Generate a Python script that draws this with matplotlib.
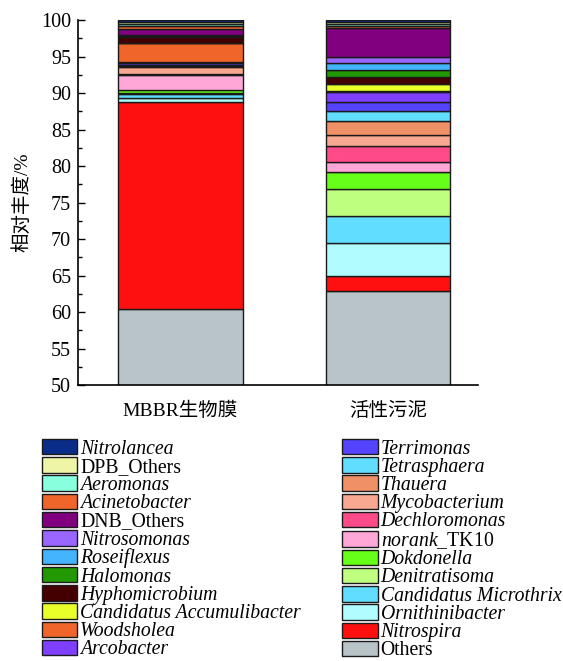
import matplotlib
matplotlib.use('Agg')
import matplotlib.pyplot as plt
import numpy as np

plt.rcParams['font.family'] = ['Liberation Serif', 'Noto Sans CJK SC']
plt.rcParams['mathtext.fontset'] = 'custom'
plt.rcParams['mathtext.it'] = 'Liberation Serif:italic'
plt.rcParams['mathtext.rm'] = 'Liberation Serif'

# samples
samples = ['MBBR生物膜', '活性污泥']

# genera, bottom of the stack first
genera = ['Others', 'Nitrospira', 'Ornithinibacter', 'Candidatus Microthrix',
          'Denitratisoma', 'Dokdonella', 'norank_TK10', 'Dechloromonas',
          'Mycobacterium', 'Thauera', 'Tetrasphaera', 'Terrimonas',
          'Arcobacter', 'Woodsholea', 'Candidatus Accumulibacter',
          'Hyphomicrobium', 'Halomonas', 'Roseiflexus', 'Nitrosomonas',
          'DNB_Others', 'Acinetobacter', 'Aeromonas', 'DPB_Others', 'Nitrolancea']

# relative abundance (%) in MBBR biofilm
mbbr = [60.4, 28.4, 0.5, 0.5, 0.2, 0.4, 2.1, 0.1, 1.0, 0.1, 0.1, 0.3,
        0.1, 2.6, 0.1, 0.8, 0.1, 0.1, 0.1, 0.8, 0.4, 0.2, 0.3, 0.3]

# relative abundance (%) in activated sludge
sludge = [62.9, 2.1, 4.45, 3.7, 3.75, 2.3, 1.3, 2.2, 1.6, 1.9, 1.4, 1.2,
          1.4, 0.1, 1.0, 0.9, 1.0, 0.9, 0.9, 3.9, 0.3, 0.2, 0.3, 0.3]

colors = ['#b8c4c8', '#ff1010', '#b0fcff', '#60ddff', '#bfff80', '#66ff19',
          '#ffa8d8', '#ff4b8a', '#f8a890', '#f09066', '#60ddff', '#5544ff',
          '#7f3fff', '#f0662a', '#e8ff2a', '#440000', '#229900', '#44b4ff',
          '#9966ff', '#800080', '#f0662a', '#88ffdd', '#eef5a5', '#0a2d8a']

not_italic = ['Others', 'DNB_Others', 'DPB_Others']

fig = plt.figure(figsize=(5.63, 6.61), dpi=100)
ax = fig.add_axes([0.1385, 0.4175, 0.7105, 0.5522])

x = np.arange(len(samples))
bottom = np.zeros(len(samples))
handles = []
for i, g in enumerate(genera):
    vals = np.array([mbbr[i], sludge[i]])
    b = ax.bar(x, vals, width=0.6, bottom=bottom, color=colors[i],
               edgecolor='#1a1a1a', linewidth=1.0)
    bottom += vals
    handles.append(b)

ax.set_ylim(50, 100)
ax.set_xlim(-0.494, 1.434)
ax.set_yticks(np.arange(50, 101, 5))
ax.set_yticks(np.arange(50, 100, 2.5), minor=True)
ax.tick_params(axis='y', direction='in', length=5, width=1, labelsize=14.5, pad=5)
ax.tick_params(axis='y', which='minor', direction='in', length=3, width=1)
ax.set_xticks(x)
ax.set_xticklabels(samples, fontsize=14)
ax.tick_params(axis='x', length=0, pad=12)
ax.spines['top'].set_visible(False)
ax.spines['right'].set_visible(False)
ax.spines['left'].set_linewidth(1.2)
ax.spines['bottom'].set_linewidth(1.2)
ax.set_ylabel('相对丰度/%', fontsize=14, labelpad=7)

labels = []
for g in genera:
    if g == 'norank_TK10':
        labels.append(r'$\mathit{norank}$_TK10')
    else:
        labels.append(g)

leg = fig.legend(handles[::-1], labels[::-1], ncol=2, loc='upper left',
                 bbox_to_anchor=(0.074, 1 - 439 / 661), frameon=False,
                 fontsize=14.2, labelspacing=-0.065, handlelength=1.8,
                 handleheight=0.82, handletextpad=0.15, columnspacing=2.1,
                 borderaxespad=0, borderpad=0)
for t, g in zip(leg.get_texts(), genera[::-1]):
    if g not in not_italic and g != 'norank_TK10':
        t.set_style('italic')

fig.savefig('out.png', dpi=100)
